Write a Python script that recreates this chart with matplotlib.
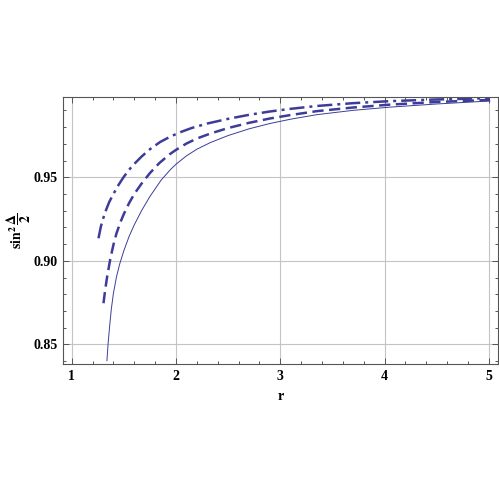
import matplotlib
matplotlib.use("Agg")
import matplotlib.pyplot as plt
from matplotlib.ticker import MultipleLocator

plt.rcParams["font.family"] = ["Liberation Serif", "DejaVu Serif"]
plt.rcParams["mathtext.fontset"] = "stix"

# values
r_solid = [1.338, 1.35, 1.365, 1.38, 1.40, 1.43, 1.46, 1.50, 1.55, 1.60, 1.67, 1.75, 1.86,
           1.95, 2.0, 2.1, 2.2, 2.33, 2.5, 2.7, 2.9, 3.1, 3.35, 3.7, 4.05, 4.5, 5.01]
y_solid = [0.8402, 0.8510, 0.8615, 0.8710, 0.8805, 0.8905, 0.8980, 0.9060, 0.9145, 0.9215,
           0.9300, 0.9385, 0.9485, 0.9548, 0.9578, 0.9628, 0.9668, 0.9708, 0.9750, 0.9790,
           0.9822, 0.9848, 0.9875, 0.9901, 0.9920, 0.9939, 0.9957]

r_dash = [1.305, 1.32, 1.34, 1.37, 1.40, 1.43, 1.47, 1.50, 1.55, 1.60, 1.67, 1.75, 1.84,
          1.94, 2.0, 2.1, 2.2, 2.33, 2.5, 2.7, 2.9, 3.1, 3.35, 3.7, 4.05, 4.5, 5.01]
y_dash = [0.8746, 0.8820, 0.8905, 0.9010, 0.9095, 0.9165, 0.9235, 0.9280, 0.9345, 0.9400,
          0.9462, 0.9525, 0.9585, 0.9638, 0.9664, 0.9702, 0.9732, 0.9762, 0.9795, 0.9826,
          0.9852, 0.9873, 0.9896, 0.9918, 0.9935, 0.9951, 0.9963]

r_dot = [1.257, 1.28, 1.30, 1.33, 1.36, 1.40, 1.45, 1.50, 1.55, 1.60, 1.67, 1.75, 1.85,
         1.95, 2.05, 2.15, 2.3, 2.5, 2.7, 2.9, 3.1, 3.35, 3.7, 4.05, 4.5, 5.01]
y_dot = [0.9135, 0.9205, 0.9250, 0.9305, 0.9352, 0.9400, 0.9455, 0.9503, 0.9545, 0.9580,
         0.9624, 0.9668, 0.9712, 0.9745, 0.9772, 0.9795, 0.9822, 0.9850, 0.9874, 0.9894,
         0.9910, 0.9927, 0.9944, 0.9956, 0.9966, 0.9974]

col = "#3d3d99"

fig = plt.figure(figsize=(4.99, 4.99), dpi=100)
ax = fig.add_axes([0.1263, 0.2705, 0.871, 0.5345])

ax.plot(r_solid, y_solid, color=col, lw=0.7)
ax.plot(r_dash, y_dash, color=col, lw=1.8, dashes=(4.5, 2.2))
ax.plot(r_dot, y_dot, color=col, lw=1.8, dashes=(6, 2, 1.2, 2))

ax.set_xlim(0.917, 5.085)
ax.set_ylim(0.8382, 0.9979)

ax.xaxis.set_major_locator(MultipleLocator(1))
ax.xaxis.set_minor_locator(MultipleLocator(0.2))
ax.yaxis.set_major_locator(MultipleLocator(0.05))
ax.yaxis.set_minor_locator(MultipleLocator(0.01))
ax.yaxis.set_major_formatter(plt.FuncFormatter(lambda v, p: "%.2f" % v))

ax.grid(True, which="major", color="#c4c4c4", lw=0.8)
ax.tick_params(which="both", direction="in", top=True, right=True, color="#555555", width=0.7)
ax.tick_params(which="major", length=4, labelsize=10, pad=4)
ax.tick_params(which="minor", length=2.5)
for lab in ax.get_xticklabels() + ax.get_yticklabels():
    lab.set_fontweight("bold")
for s in ax.spines.values():
    s.set_color("#555555")
    s.set_linewidth(0.8)

ax.set_xlabel("r", fontsize=10, fontweight="bold", labelpad=5)
ax.set_ylabel(r"$\mathbf{sin}^{\mathbf{2}}\,\dfrac{\mathbf{\Delta}}{\mathbf{2}}$", fontsize=10, labelpad=0)

fig.savefig("out.png", dpi=100)
